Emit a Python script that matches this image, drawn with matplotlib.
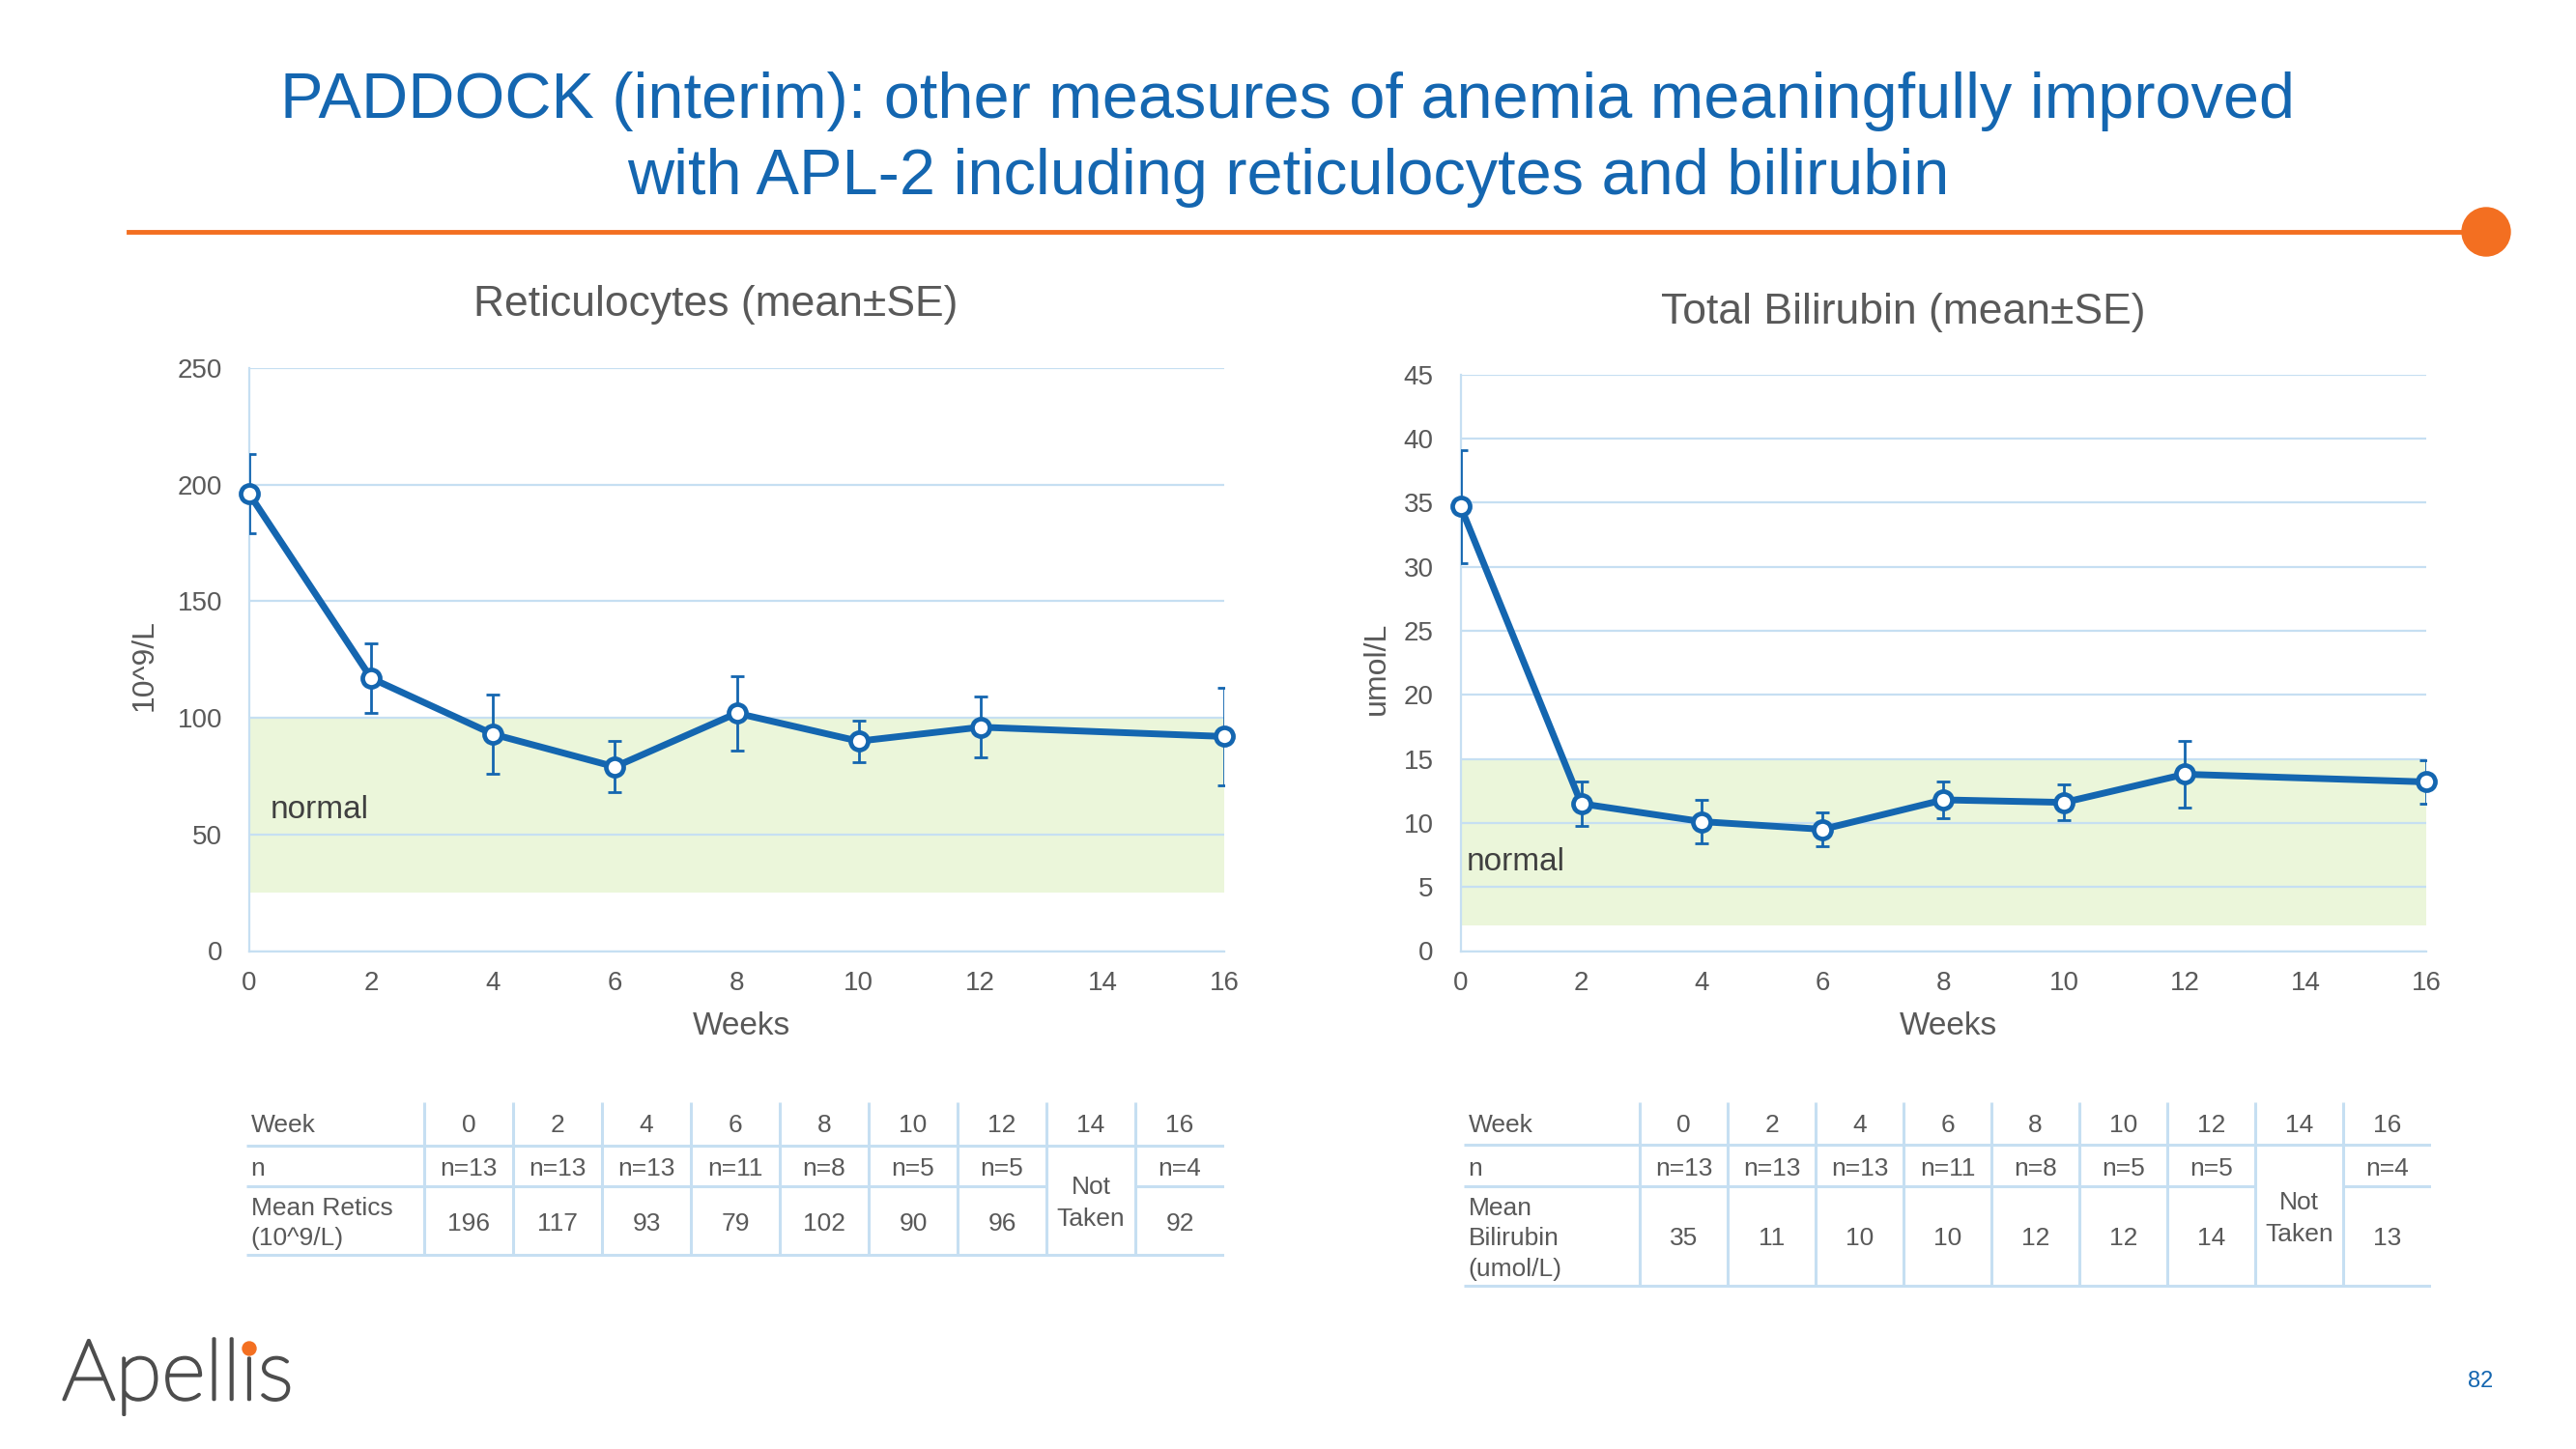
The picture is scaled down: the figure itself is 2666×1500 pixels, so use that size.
import numpy as np
import matplotlib.pyplot as plt
import matplotlib.patheffects as pe
from matplotlib.patches import Circle

# chart data
weeks = [0, 2, 4, 6, 8, 10, 12, 16]
retic_mean = [196, 117, 93, 79, 102, 90, 96, 92]
retic_se = [17, 15, 17, 11, 16, 9, 13, 21]
bili_mean = [34.7, 11.5, 10.1, 9.5, 11.8, 11.6, 13.8, 13.2]
bili_se = [4.4, 1.7, 1.7, 1.3, 1.4, 1.4, 2.6, 1.7]

retic_normal = (25, 100)
bili_normal = (2, 15)

# table data
table_weeks = ["0", "2", "4", "6", "8", "10", "12", "14", "16"]
n_counts = ["n=13", "n=13", "n=13", "n=11", "n=8", "n=5", "n=5", None, "n=4"]
retic_table = ["196", "117", "93", "79", "102", "90", "96", None, "92"]
bili_table = ["35", "11", "10", "10", "12", "12", "14", None, "13"]

BLUE = "#1466B0"
GRID = "#C6DFF2"
GRAY = "#595959"
BAND = "#EBF6DA"
ORANGE = "#F36F21"

plt.rcParams["font.family"] = ["Liberation Sans", "DejaVu Sans"]

W, H = 2666, 1500


def frac(x0, y0, x1, y1):
    # pixel box (top-left origin) -> figure fraction rect
    return [x0 / W, 1 - y1 / H, (x1 - x0) / W, (y1 - y0) / H]


def draw_chart(ax, mean, se, ymax, ystep, band, title, title_x, ylabel, ylabel_x, normal_pos):
    ax.axhspan(band[0], band[1], color=BAND, lw=0, zorder=0)
    ax.errorbar(weeks, mean, yerr=se, fmt="none", ecolor=BLUE, elinewidth=2,
                capsize=4.7, capthick=2, zorder=3)
    ax.plot(weeks, mean, color=BLUE, lw=5, marker="o", ms=13, mfc="white",
            mec=BLUE, mew=3.4, zorder=4, clip_on=False)
    ax.set_xlim(0, 16)
    ax.set_ylim(0, ymax)
    ax.set_xticks(range(0, 17, 2))
    ax.set_yticks(np.arange(0, ymax + 1, ystep))
    ax.grid(axis="y", color=GRID, lw=1.6)
    ax.set_axisbelow(True)
    for s in ["top", "right"]:
        ax.spines[s].set_visible(False)
    for s in ["left", "bottom"]:
        ax.spines[s].set_color(GRID)
        ax.spines[s].set_linewidth(1.6)
    ax.tick_params(length=0, labelsize=20, labelcolor=GRAY)
    ax.tick_params(axis="y", pad=20)
    ax.tick_params(axis="x", pad=15)
    ax.text(title_x, 1.108, title, transform=ax.transAxes, ha="center", va="center",
            fontsize=32, color=GRAY)
    ax.text(0.505, -0.13, "Weeks", transform=ax.transAxes, ha="center", va="center",
            fontsize=24, color=GRAY)
    ax.text(ylabel_x, 0.49, ylabel, transform=ax.transAxes, ha="center", va="center",
            rotation=90, fontsize=23, color=GRAY)
    ax.text(normal_pos[0], normal_pos[1], "normal", ha="left", va="center",
            fontsize=24, color="#404040")


def draw_table(ax, label, values, rows):
    ncol = len(table_weeks)
    right = ncol + 2
    h1, h2, h3 = rows
    ax.set_xlim(0, right)
    ax.set_ylim(h3 + 2, 0)
    ax.axis("off")
    kw = dict(color=GRID, lw=2.2, solid_capstyle="butt")
    ax.plot([0, right], [h1, h1], **kw)
    ax.plot([0, right], [h3, h3], **kw)
    skip = n_counts.index(None)
    ax.plot([0, 2 + skip], [h2, h2], **kw)
    ax.plot([3 + skip, right], [h2, h2], **kw)
    for i in range(ncol):
        ax.plot([2 + i, 2 + i], [2, h3], **kw)

    dy = 3  # nudge text a little lower, like the slide
    tkw = dict(fontsize=19, color=GRAY, va="center")
    ax.text(0.05, h1 / 2 + dy, "Week", ha="left", **tkw)
    ax.text(0.05, (h1 + h2) / 2 + dy, "n", ha="left", **tkw)
    ax.text(0.05, (h2 + h3) / 2 + dy, label, ha="left", linespacing=1.4, **tkw)
    for i, wk in enumerate(table_weeks):
        cx = 2.5 + i
        ax.text(cx, h1 / 2 + dy, wk, ha="center", **tkw)
        if n_counts[i] is None:
            ax.text(cx, (h1 + h3) / 2 + dy, "Not\nTaken", ha="center", linespacing=1.45, **tkw)
            continue
        ax.text(cx, (h1 + h2) / 2 + dy, n_counts[i], ha="center", **tkw)
        ax.text(cx, (h2 + h3) / 2 + dy, values[i], ha="center", **tkw)


fig = plt.figure(figsize=(W / 100, H / 100), dpi=100)

# page decorations in pixel coordinates
bg = fig.add_axes([0, 0, 1, 1])
bg.set_xlim(0, W)
bg.set_ylim(H, 0)
bg.axis("off")
bg.text(W / 2, 105, "PADDOCK (interim): other measures of anemia meaningfully improved",
        ha="center", va="center", fontsize=48, color=BLUE)
bg.text(W / 2, 184, "with APL-2 including reticulocytes and bilirubin",
        ha="center", va="center", fontsize=48, color=BLUE)
bg.plot([133, 2560], [240, 240], color=ORANGE, lw=3.5)
bg.add_patch(Circle((2573, 240), 25, color=ORANGE))
bg.text(2567, 1430, "82", ha="center", va="center", fontsize=17, color=BLUE)

# logo: dotless i with an orange dot placed over it
logo_kw = dict(fontsize=63, family=["Lato", "DejaVu Sans"], fontweight="light",
               color="#4D4D4D", va="center", ha="left")
logo = bg.text(64, 1425, "Apellıs", **logo_kw)
logo.set_path_effects([pe.withStroke(linewidth=2.2, foreground="#4D4D4D")])
r = fig.canvas.get_renderer()
pre = bg.text(64, 1425, "Apell", alpha=0, **logo_kw)
dotless = bg.text(64, 1425, "ı", alpha=0, **logo_kw)
x_i = 64 + pre.get_window_extent(r).width + dotless.get_window_extent(r).width / 2
bg.add_patch(Circle((x_i, 1396), 7, color=ORANGE))

ax1 = fig.add_axes(frac(258, 381, 1267, 984.5))
draw_chart(ax1, retic_mean, retic_se, 250, 50, retic_normal,
           "Reticulocytes (mean±SE)", 0.478, "10^9/L", -0.107, (0.35, 60.6))

ax2 = fig.add_axes(frac(1511.6, 387.7, 2511, 984.5))
draw_chart(ax2, bili_mean, bili_se, 45, 5, bili_normal,
           "Total Bilirubin (mean±SE)", 0.458, "umol/L", -0.087, (0.09, 6.9))

t1 = fig.add_axes(frac(255, 1139, 1267, 1301))
draw_table(t1, "Mean Retics\n(10^9/L)", retic_table, (46, 88, 158))

t2 = fig.add_axes(frac(1515, 1139, 2516, 1333))
draw_table(t2, "Mean\nBilirubin\n(umol/L)", bili_table, (46, 88, 190))

fig.savefig("out.png", dpi=100)
